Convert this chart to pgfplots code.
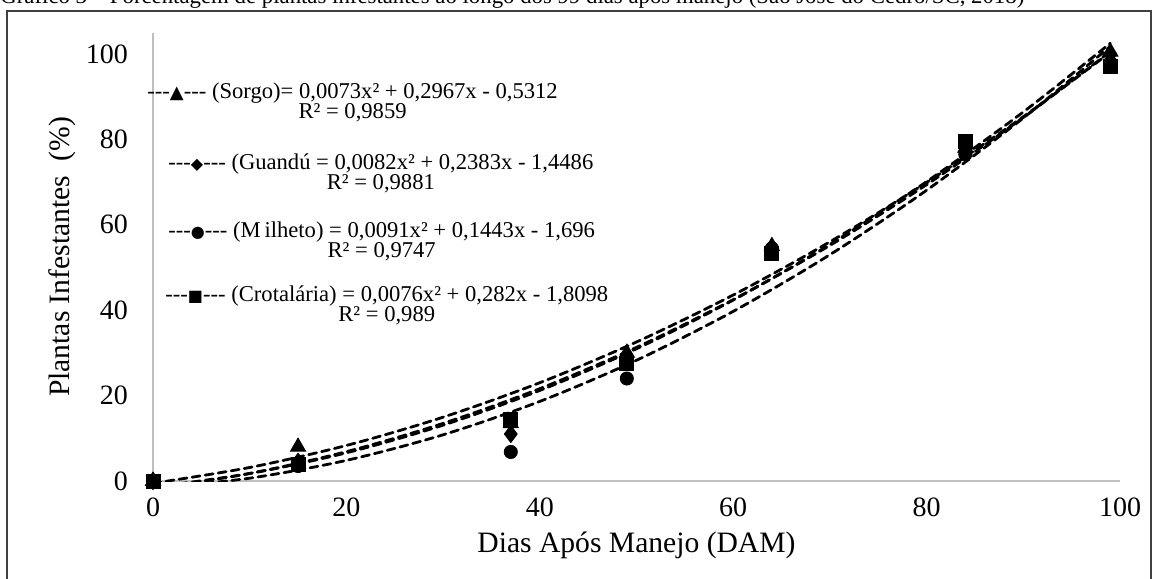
\documentclass[border=0pt]{standalone}
\usepackage{pgfplots}
\pgfplotsset{compat=1.18}
\usepackage{fontspec}
\setmainfont{Liberation Serif}
\newfontfamily\symfont{DejaVu Sans}
\begin{document}
\begin{tikzpicture}[x=1pt,y=1pt]
% outer frame and (cropped) caption
\draw[line width=0.6pt,black!75] (3.5,-5) rectangle (575.5,283.5);
\node[anchor=base west,inner sep=0,font=\fontsize{11.4}{13}\selectfont] at (0,287) {Gráfico 3 – Porcentagem de plantas infestantes ao longo dos 99 dias após manejo (São José do Cedro/SC, 2018)};
\begin{axis}[
  at={(76.5pt,48.5pt)}, anchor=south west,
  scale only axis, width=483.5pt, height=224.2pt,
  xmin=0, xmax=100, ymin=0, ymax=105,
  axis lines*=left,
  axis line style={draw=black!25, line width=0.8pt},
  xtick={0,20,...,100}, ytick={0,20,...,100},
  major tick length=0pt,
  /pgf/number format/assume math mode=true,
  tick label style={font=\fontsize{14}{16}\selectfont},
  xticklabel style={yshift=-5pt},
  yticklabel style={xshift=-9pt},
  xlabel={Dias Após Manejo (DAM)},
  ylabel={Plantas Infestantes\ \ (\%)},
  label style={font=\fontsize{14.8}{16}\selectfont},
  xlabel style={at={(axis description cs:0.5,-0.1427)},anchor=center},
  ylabel style={at={(axis description cs:-0.0941,0.5)},anchor=center},
  trend/.style={black, line width=1.4pt, dash pattern=on 4pt off 2.6pt, line cap=round, smooth, no markers},
]
% observed data
\addplot[only marks, mark=triangle*, mark size=4.4pt, black] coordinates {(0,0) (15,8) (37,13.5) (49,30) (64,55) (84,78) (99,100.5)};
\addplot[only marks, mark=diamond*, mark size=4.3pt, black] coordinates {(0,0) (15,4.5) (37,11) (49,28.5) (64,54) (84,77) (99,100)};
\addplot[only marks, mark=*, mark size=3.3pt, black] coordinates {(0,0) (15,3.5) (37,6.8) (49,24) (64,54.5) (84,76.5) (99,98)};
\addplot[only marks, mark=square*, mark size=3.5pt, black] coordinates {(0,0) (15,4) (37,14.5) (49,27.5) (64,53.2) (84,79.5) (99,97)};
% trend lines (values of the fitted polynomials)
\addplot[trend] coordinates {(0,-0.531) (10,3.166) (20,8.323) (30,14.94) (40,23.017) (50,32.554) (60,43.551) (70,56.008) (80,69.925) (90,85.302) (99,100.389)};
\addplot[trend] coordinates {(0,-1.449) (10,1.754) (20,6.597) (30,13.08) (40,21.203) (50,30.966) (60,42.369) (70,55.412) (80,70.095) (90,86.418) (99,102.511)};
\addplot[trend] coordinates {(0,-1.696) (10,0.657) (20,4.83) (30,10.823) (40,18.636) (50,28.269) (60,39.722) (70,52.995) (80,68.088) (90,85.001) (99,101.779)};
\addplot[trend] coordinates {(0,-1.81) (10,1.77) (20,6.87) (30,13.49) (40,21.63) (50,31.29) (60,42.47) (70,55.17) (80,69.39) (90,85.13) (99,100.596)};
\end{axis}
% equation labels
\begin{scope}[every node/.style={anchor=west,inner sep=0pt,align=center,font=\fontsize{11.3}{10}\selectfont}]
\node at (73.5,238) {-{}-{}-{\symfont\fontsize{9}{9}\selectfont ▲}-{}-{}- (Sorgo)= 0,0073x² + 0,2967x - 0,5312\\R² = 0,9859};
\node at (84,202.5) {-{}-{}-{\symfont\fontsize{8}{8}\selectfont ◆}-{}-{}- (Guandú = 0,0082x² + 0,2383x - 1,4486\\R² = 0,9881};
\node at (84,168.5) {-{}-{}-{\symfont\fontsize{8}{8}\selectfont ●}-{}-{}- (M\,ilheto) = 0,0091x² + 0,1443x - 1,696\\R² = 0,9747};
\node at (82.5,136.5) {-{}-{}-{\symfont\fontsize{8}{8}\selectfont ■}-{}-{}- (Crotalária) = 0,0076x² + 0,282x - 1,8098\\R² = 0,989};
\end{scope}
\pgfresetboundingbox
\useasboundingbox (0,0) rectangle (577.5,289);
\end{tikzpicture}
\end{document}
